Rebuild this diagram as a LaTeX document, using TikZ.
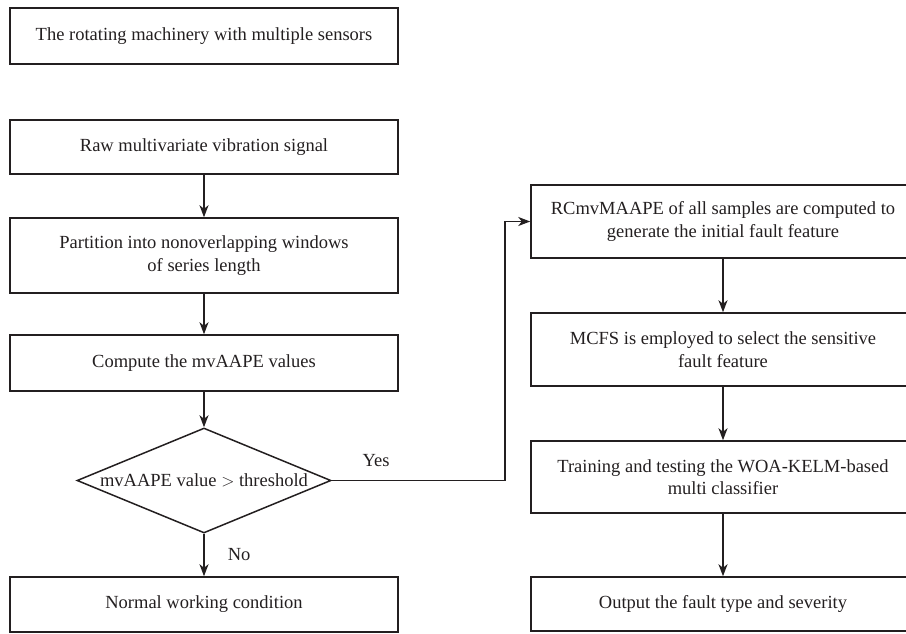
\documentclass[tikz,border=0pt]{standalone}
\usepackage{fontspec}
\setmainfont{Liberation Serif}
\usetikzlibrary{shapes.geometric,arrows.meta}
\definecolor{ink}{HTML}{231F20}
\begin{document}
\begin{tikzpicture}[x=1pt,y=-1pt,
  font=\fontsize{18.5}{22.5}\selectfont,
  every node/.style={text=ink},
  box/.style={draw=ink,line width=1.5pt,rectangle,inner sep=0pt,align=center},
  lbox/.style={box,minimum width=388pt},
  rbox/.style={box,minimum width=384pt},
  dec/.style={draw=ink,line width=1.5pt,diamond,aspect=2.42,inner sep=0pt,minimum width=254pt,minimum height=105pt},
  arr/.style={draw=ink,line width=1.5pt,-{Stealth[length=12pt,width=9pt,inset=3.5pt]}},
  lab/.style={inner sep=0pt}]
\useasboundingbox (0,0) rectangle (906,633);
\clip (0,0) rectangle (906,633);
\node[lbox,minimum height=56pt] (b1) at (204,36) {The rotating machinery with multiple sensors};
\node[lbox,minimum height=54pt] (b2) at (204,147) {Raw multivariate vibration signal};
\node[lbox,minimum height=75pt] (b3) at (204,255.5) {Partition into nonoverlapping windows\\of series length};
\node[lbox,minimum height=56pt] (b4) at (204,363) {Compute the mvAAPE values};
\node[dec] (d) at (204,480.5) {mvAAPE value $>$ threshold};
\node[lbox,minimum height=55pt] (b5) at (204,604.5) {Normal working condition};
\node[rbox,minimum height=73pt] (r1) at (723,221.5) {RCmvMAAPE of all samples are computed to\\generate the initial fault feature};
\node[rbox,minimum height=73pt] (r2) at (723,349.5) {MCFS is employed to select the sensitive\\fault feature};
\node[rbox,minimum height=72pt] (r3) at (723,477) {Training and testing the WOA-KELM-based\\multi classifier};
\node[rbox,minimum height=54pt] (r4) at (723,604) {Output the fault type and severity};
\coordinate (c1) at (505,480.5);
\coordinate (c2) at (505,221.5);
\draw[arr] (b2) -- (b3);
\draw[arr] (b3) -- (b4);
\draw[arr] (b4) -- (d);
\draw[arr] (d) -- node[lab,right=23pt,pos=0.5] {No} (b5);
\draw[arr] (d.east) -- (c1) -- (c2) -- (r1.west);
\node[lab] (yes) at (376,461) {Yes};
\draw[arr] (r1) -- (r2);
\draw[arr] (r2) -- (r3);
\draw[arr] (r3) -- (r4);
\end{tikzpicture}
\end{document}
